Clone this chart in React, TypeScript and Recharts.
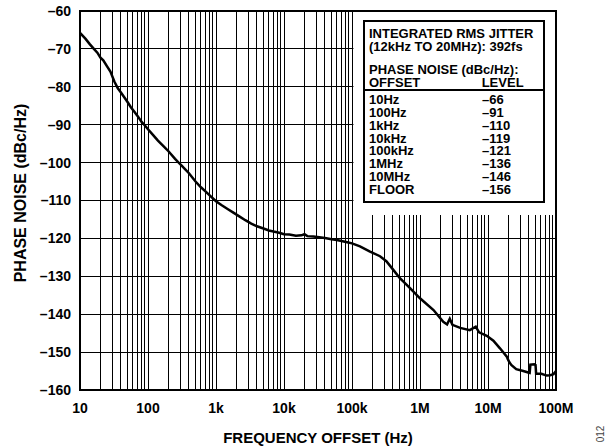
import React from "react";
import {
  LineChart,
  Line,
  XAxis,
  YAxis,
  CartesianGrid,
  ReferenceArea,
} from "recharts";

// Frequency offsets (Hz) and measured phase noise (dBc/Hz)
const FREQ = [
  10, 12, 14, 16, 18, 20, 22, 25, 28, 32, 36, 40, 45, 50, 56, 63, 71, 80, 90,
  100, 120, 140, 170, 200, 250, 300, 350, 400, 500, 600, 700, 800, 1000, 1200,
  1500, 1800, 2200, 2700, 3300, 4000, 5000, 6000, 7000, 8500, 10000, 12000,
  15000, 18000, 20000, 22000, 27000, 33000, 40000, 50000, 60000, 70000, 85000,
  100000, 131000, 181000, 258000, 320000, 405000, 506000, 713000, 1000000,
  1580000, 2200000, 2500000, 2740000, 3000000, 3900000, 5400000, 6600000,
  7400000, 9600000, 12000000, 15000000, 18900000, 19500000, 20500000,
  22000000, 26000000, 33000000, 39000000, 41000000, 42000000, 48000000,
  50000000, 51000000, 61000000, 73000000, 82000000, 92000000, 100000000,
];
const PHASE_NOISE = [
  -65.8, -67.3, -68.8, -70.0, -71.0, -72.3, -73.0, -74.6, -76.0, -78.6, -80.4,
  -81.5, -82.8, -84.0, -85.4, -86.6, -87.8, -89.2, -90.2, -91.2, -92.8, -94.2,
  -95.7, -97.0, -99.0, -100.5, -101.7, -102.8, -105.0, -106.5, -107.6, -108.6,
  -110.2, -111.2, -112.3, -113.2, -114.2, -115.2, -116.1, -116.8, -117.4,
  -117.9, -118.2, -118.5, -118.9, -119.0, -119.3, -119.2, -118.9, -119.4,
  -119.5, -119.7, -119.9, -120.2, -120.4, -120.7, -121.0, -121.3, -122.1,
  -123.4, -124.7, -126.0, -128.3, -130.5, -133.1, -135.8, -138.9, -142.0,
  -142.7, -141.2, -142.8, -143.6, -144.2, -143.3, -144.8, -145.7, -147.0,
  -149.0, -151.2, -151.8, -152.6, -153.4, -154.5, -155.0, -155.4, -155.5,
  -153.3, -153.2, -153.4, -155.7, -155.7, -156.2, -156.1, -155.8, -155.0,
];

const X_DECADES = [10, 100, 1000, 10000, 100000, 1000000, 10000000, 100000000];
const X_DECADE_LABELS = ["10", "100", "1k", "10k", "100k", "1M", "10M", "100M"];
const Y_TICKS = [-160, -150, -140, -130, -120, -110, -100, -90, -80, -70, -60];

const TABLE_TITLE = ["INTEGRATED RMS JITTER", "(12kHz TO 20MHz): 392fs"];
const TABLE_SUBTITLE = "PHASE NOISE (dBc/Hz):";
const TABLE_HEAD = ["OFFSET", "LEVEL"];
const TABLE_OFFSETS = ["10Hz", "100Hz", "1kHz", "10kHz", "100kHz", "1MHz", "10MHz", "FLOOR"];
const TABLE_LEVELS = ["–66", "–91", "–110", "–119", "–121", "–136", "–146", "–156"];

const data = FREQ.map((f, i) => ({ f, pn: PHASE_NOISE[i] }));

// all grid ticks 1..9 per decade
const X_TICKS: number[] = [];
X_DECADES.forEach((d, i) => {
  if (i === X_DECADES.length - 1) {
    X_TICKS.push(d);
    return;
  }
  for (let k = 1; k <= 9; k++) X_TICKS.push(d * k);
});

const FONT = "'Liberation Sans', Arial, Helvetica, sans-serif";

const fmtX = (v: number) => {
  const idx = X_DECADES.findIndex((d) => Math.abs(d - v) / d < 1e-6);
  return idx >= 0 ? X_DECADE_LABELS[idx] : "";
};
const fmtY = (v: number) => (v < 0 ? "–" + Math.abs(v) : String(v));

const abs = (left: number, top: number, extra: React.CSSProperties = {}): React.CSSProperties => ({
  position: "absolute",
  left,
  top,
  whiteSpace: "pre",
  ...extra,
});

export default function App() {
  const lineH = "12.86px";
  const headLine = TABLE_HEAD[0] + " ".repeat(17) + TABLE_HEAD[1];
  return (
    <div
      style={{
        position: "absolute",
        left: 0,
        top: 0,
        width: 614,
        height: 446,
        background: "#fff",
        fontFamily: FONT,
        fontWeight: "bold",
        color: "#000",
      }}
    >
      <LineChart
        width={614}
        height={446}
        data={data}
        margin={{ top: 11, right: 58, bottom: 0, left: 0 }}
      >
        <CartesianGrid stroke="#000" strokeWidth={1} strokeOpacity={1} shapeRendering="crispEdges" />
        <XAxis
          dataKey="f"
          type="number"
          scale="log"
          domain={[10, 100000000]}
          ticks={X_TICKS}
          interval={0}
          tickFormatter={fmtX}
          allowDataOverflow
          axisLine={false}
          tickLine={false}
          tickSize={0}
          tickMargin={13}
          height={56}
          tick={{ fill: "#000", fontSize: 14, fontWeight: "bold", fontFamily: FONT }}
        />
        <YAxis
          type="number"
          domain={[-160, -60]}
          ticks={Y_TICKS}
          interval={0}
          tickFormatter={fmtY}
          axisLine={false}
          tickLine={false}
          tickSize={0}
          tickMargin={9}
          width={80}
          tick={{ fill: "#000", fontSize: 14, fontWeight: "bold", fontFamily: FONT }}
        />
        <ReferenceArea
          x1={105000}
          x2={100000000}
          y1={-113.8}
          y2={-60}
          fill="#fff"
          fillOpacity={1}
          stroke="none"
          ifOverflow="visible"
        />
        <ReferenceArea
          x1={10}
          x2={100000000}
          y1={-160}
          y2={-60}
          fill="none"
          fillOpacity={0}
          stroke="#000"
          strokeWidth={2}
          ifOverflow="visible"
        />
        <Line
          dataKey="pn"
          type="linear"
          stroke="#000"
          strokeWidth={2.5}
          dot={false}
          activeDot={false}
          isAnimationActive={false}
        />
      </LineChart>

      {/* Axis titles */}
      <div
        style={abs(21, 193, {
          fontSize: 16,
          transform: "translate(-50%, -50%) rotate(-90deg)",
        })}
      >
        PHASE NOISE (dBc/Hz)
      </div>
      <div
        style={abs(318, 437, {
          fontSize: 15,
          transform: "translate(-50%, -50%)",
        })}
      >
        FREQUENCY OFFSET (Hz)
      </div>
      <div
        style={abs(600, 434, {
          fontSize: 10,
          fontWeight: "normal",
          color: "#444",
          transform: "translate(-50%, -50%) rotate(-90deg)",
        })}
      >
        012
      </div>

      {/* Annotation box */}
      <div
        style={{
          position: "absolute",
          left: 363,
          top: 20,
          width: 182,
          height: 183,
          border: "2px solid #000",
          boxSizing: "border-box",
          background: "#fff",
        }}
      />
      <div style={{ position: "absolute", left: 363, top: 89, width: 182, height: 2, background: "#000" }} />
      <div style={{ fontSize: 13, lineHeight: lineH }}>
        <div style={abs(369, 28.3)}>{TABLE_TITLE.join("\n")}</div>
        <div style={abs(369, 64)}>{[TABLE_SUBTITLE, headLine].join("\n")}</div>
        <div style={abs(369, 94)}>{TABLE_OFFSETS.join("\n")}</div>
        <div style={abs(482, 94)}>{TABLE_LEVELS.join("\n")}</div>
      </div>
    </div>
  );
}
